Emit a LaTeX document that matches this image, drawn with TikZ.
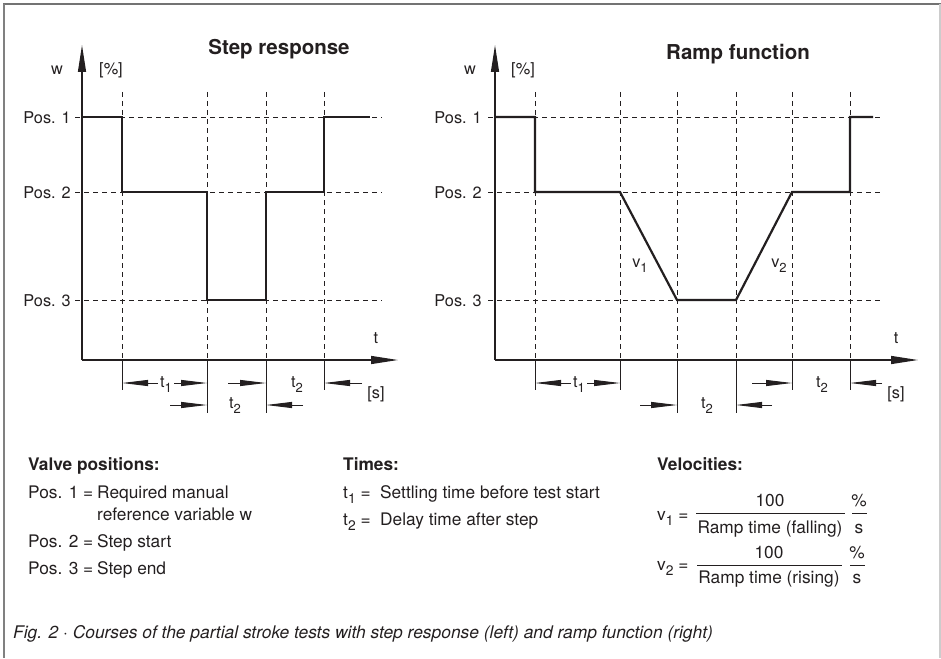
\documentclass[tikz,border=0pt]{standalone}
\usepackage{fontspec}
\setmainfont{TeX Gyre Heros}
\usetikzlibrary{arrows.meta}
\definecolor{ink}{HTML}{231F20}
\newcommand{\lowsub}[1]{\raisebox{-0.32em}{\scalebox{0.8}{#1}}}
\newcommand{\chartfont}{\fontsize{16.3}{19}\selectfont}
\newcommand{\legfont}{\fontsize{17.3}{20}\selectfont}
\newcommand{\titlefont}{\fontsize{20.5}{24}\selectfont\bfseries}

\begin{document}
\begin{tikzpicture}[x=1pt,y=-1pt,
    every node/.style={inner sep=0pt,text=ink},
    guide/.style={ink,line width=0.8pt,dash pattern=on 5pt off 4pt},
    tick/.style={ink,line width=0.9pt},
    axis/.style={ink,line width=1.3pt,-{Triangle[length=27pt,width=8pt]}},
    curve/.style={ink,line width=2.2pt},
    dim/.style={ink,line width=0.9pt,-{Triangle[length=26pt,width=6pt]}},
    poslabel/.style={anchor=base east,font=\chartfont},
    chartlabel/.style={anchor=base,font=\chartfont},
    legend/.style={anchor=base west,font=\legfont},
    heading/.style={anchor=base west,font=\legfont\bfseries}
  ]
  \useasboundingbox (0,0) rectangle (941,658);
  % frame
  \draw[gray!90!black,line width=2pt] (3,4) -- (941,4);
  \draw[gray,line width=1.2pt] (4,4) -- (4,658);
  \draw[gray!40,line width=1.5pt] (940,4) -- (940,658);

  \coordinate (row1) at (0,383);
  \coordinate (row2) at (0,405);

  % ---- step response ----
  \node[anchor=base,font=\titlefont] (title1) at (279,55) {Step response};
  \foreach \y/\n in {117/1,192/2,300/3}{
    \draw[guide] (75,\y) -- (382,\y);
    \node[poslabel] (lpos\n) at (71,\y+6) {Pos. \n};
  }
  \foreach \x/\b [count=\i] in {122/390,207/413,266/413,324/390}{
    \draw[guide] (\x,92) -- (\x,360);
    \draw[tick] (\x,360) -- (\x,\b);
    \coordinate (la\i) at (\x,\b);
  }
  \coordinate (o1) at (82,360);
  \coordinate (ytop1) at (82,45);
  \coordinate (xend1) at (398,360);
  \draw[axis] (o1) -- (ytop1);
  \draw[axis] (o1) -- (xend1);
  \node[chartlabel] (lw) at (57,75) {w};
  \node[chartlabel] (lpct) at (111,75) {[\%]};
  \node[chartlabel] (lt) at (376,343) {t};
  \draw[curve] (82,117) -| (122,192) -| (207,300) -| (266,192) -| (324,117) -- (370,117);

  % time spans
  \node[chartlabel] (lt1) at (166,387) {t\lowsub{1}};
  \draw[dim] ([xshift=-2pt]lt1.west |- row1) -- (la1 |- row1);
  \draw[dim] ([xshift=2pt]lt1.east |- row1) -- (la2 |- row1);
  \coordinate (ls1) at (228,383);
  \draw[dim] (ls1) -- (la3 |- row1);
  \node[chartlabel] (lt2a) at (297,387) {t\lowsub{2}};
  \coordinate (ls2) at (362,383);
  \draw[dim] (ls2) -- (la4 |- row1);
  \node[chartlabel] (lsec) at (376,398) {[s]};
  \coordinate (ls3) at (170,405);
  \draw[dim] (ls3) -- (la2 |- row2);
  \node[chartlabel] (lt2b) at (235,408) {t\lowsub{2}};
  \coordinate (ls4) at (303,405);
  \draw[dim] (ls4) -- (la3 |- row2);

  % ---- ramp function ----
  \node[anchor=base,font=\titlefont] (title2) at (738,60) {Ramp function};
  \foreach \y/\n in {117/1,192/2,300/3}{
    \draw[guide] (488,\y) -- (883,\y);
    \node[poslabel] (rpos\n) at (482,\y+6) {Pos. \n};
  }
  \foreach \x/\b [count=\i] in {535/390,620/390,677/413,736/413,792/390,850/390}{
    \draw[guide] (\x,92) -- (\x,360);
    \draw[tick] (\x,360) -- (\x,\b);
    \coordinate (ra\i) at (\x,\b);
  }
  \coordinate (o2) at (495,360);
  \coordinate (ytop2) at (495,45);
  \coordinate (xend2) at (918,360);
  \draw[axis] (o2) -- (ytop2);
  \draw[axis] (o2) -- (xend2);
  \node[chartlabel] (rw) at (470,75) {w};
  \node[chartlabel] (rpct) at (523,75) {[\%]};
  \node[chartlabel] (rt) at (896,343) {t};
  \draw[curve] (495,117) -| (535,192) -- (620,192) -- (677,300) -- (736,300)
    -- (792,192) -| (850,117) -- (873,117);
  \node[chartlabel] (rv1) at (640,267) {v\lowsub{1}};
  \node[chartlabel] (rv2) at (779,267) {v\lowsub{2}};

  % time spans
  \node[chartlabel] (rt1) at (579,387) {t\lowsub{1}};
  \draw[dim] ([xshift=-2pt]rt1.west |- row1) -- (ra1 |- row1);
  \draw[dim] ([xshift=2pt]rt1.east |- row1) -- (ra2 |- row1);
  \coordinate (rs1) at (752,383);
  \draw[dim] (rs1) -- (ra5 |- row1);
  \node[chartlabel] (rt2a) at (822,387) {t\lowsub{2}};
  \coordinate (rs2) at (882,383);
  \draw[dim] (rs2) -- (ra6 |- row1);
  \node[chartlabel] (rsec) at (896,398) {[s]};
  \coordinate (rs3) at (640,405);
  \draw[dim] (rs3) -- (ra3 |- row2);
  \node[chartlabel] (rt2b) at (707,408) {t\lowsub{2}};
  \coordinate (rs4) at (772,405);
  \draw[dim] (rs4) -- (ra4 |- row2);

  % ---- legend ----
  \node[heading] (hpos) at (28,470) {Valve positions:};
  \node[legend] (p1) at (28,498) {Pos. 1 =};
  \node[legend] (p1a) at (97,498) {Required manual};
  \node[legend] (p1b) at (97,520) {reference variable w};
  \node[legend] (p2) at (28,547) {Pos. 2 =};
  \node[legend] (p2a) at (97,547) {Step start};
  \node[legend] (p3) at (28,574) {Pos. 3 =};
  \node[legend] (p3a) at (97,574) {Step end};

  \node[heading] (htime) at (343,470) {Times:};
  \node[legend] (tt1) at (343,498) {t\lowsub{1} =};
  \node[legend] (tt1a) at (380,498) {Settling time before test start};
  \node[legend] (tt2) at (343,525) {t\lowsub{2} =};
  \node[legend] (tt2a) at (380,525) {Delay time after step};

  \node[heading] (hvel) at (657,470) {Velocities:};
  \coordinate (bar1) at (0,513);
  \coordinate (bar2) at (0,565);
  \node[legend] (vv1) at (657,520) {v\lowsub{1} =};
  \node[anchor=base,font=\legfont] (num1) at (770,506) {100};
  \node[anchor=base,font=\legfont] (den1) at (770,533) {Ramp time (falling)};
  \draw[ink,line width=0.8pt] ([xshift=-1pt]den1.west |- bar1) -- ([xshift=2pt]den1.east |- bar1);
  \node[anchor=base,font=\legfont] (pc1) at (859,506) {\%};
  \node[anchor=base,font=\legfont] (sec1) at (859,533) {s};
  \draw[ink,line width=0.8pt] (852,513) -- (867,513);
  \node[legend] (vv2) at (657,570) {v\lowsub{2} =};
  \node[anchor=base,font=\legfont] (num2) at (769,558) {100};
  \node[anchor=base,font=\legfont] (den2) at (769,583) {Ramp time (rising)};
  \draw[ink,line width=0.8pt] ([xshift=-1pt]den2.west |- bar2) -- ([xshift=2pt]den2.east |- bar2);
  \node[anchor=base,font=\legfont] (pc2) at (857,558) {\%};
  \node[anchor=base,font=\legfont] (sec2) at (857,583) {s};
  \draw[ink,line width=0.8pt] (850,565) -- (865,565);

  % caption
  \node[anchor=base west,font=\fontsize{17.4}{20}\selectfont\itshape] (cap) at (13,638)
    {Fig. 2 · Courses of the partial stroke tests with step response (left) and ramp function (right)};
\end{tikzpicture}
\end{document}
